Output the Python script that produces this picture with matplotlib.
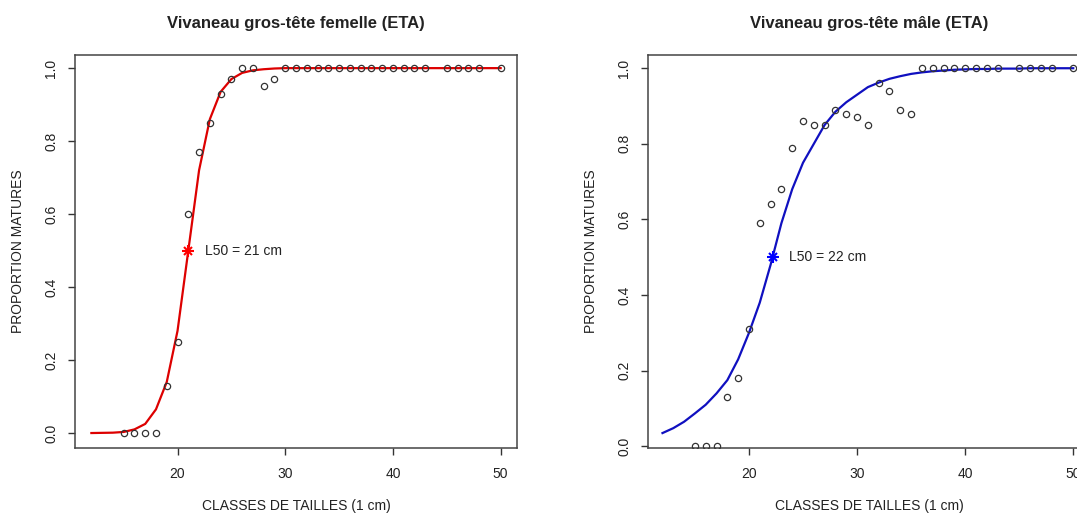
import matplotlib
matplotlib.use("Agg")
import matplotlib.pyplot as plt

plt.rcParams['font.family'] = ['Liberation Sans', 'DejaVu Sans']

# observed proportions (femelle)
f_taille = [15, 16, 17, 18, 19, 20, 21, 22, 23, 24, 25, 26, 27, 28, 29, 30, 31, 32, 33, 34,
            35, 36, 37, 38, 39, 40, 41, 42, 43, 45, 46, 47, 48, 50]
f_prop = [0, 0, 0, 0, 0.13, 0.25, 0.60, 0.77, 0.85, 0.93, 0.97, 1.0, 1.0, 0.95, 0.97, 1.0, 1.0, 1.0, 1.0, 1.0,
          1.0, 1.0, 1.0, 1.0, 1.0, 1.0, 1.0, 1.0, 1.0, 1.0, 1.0, 1.0, 1.0, 1.0]

# observed proportions (male)
m_taille = [15, 16, 17, 18, 19, 20, 21, 22, 23, 24, 25, 26, 27, 28, 29, 30, 31, 32, 33, 34,
            35, 36, 37, 38, 39, 40, 41, 42, 43, 45, 46, 47, 48, 50]
m_prop = [0, 0, 0, 0.13, 0.18, 0.31, 0.59, 0.64, 0.68, 0.79, 0.86, 0.85, 0.85, 0.89, 0.88, 0.87, 0.85, 0.96, 0.94, 0.89,
          0.88, 1.0, 1.0, 1.0, 1.0, 1.0, 1.0, 1.0, 1.0, 1.0, 1.0, 1.0, 1.0, 1.0]

# fitted curves, read at each cm
courbe_x = list(range(12, 51))
f_courbe = [0.0, 0.0005, 0.001, 0.003, 0.01, 0.025, 0.065, 0.14, 0.28, 0.50, 0.72, 0.86, 0.935, 0.97, 0.987,
            0.994, 0.997, 0.999] + [1.0] * 21
m_courbe = [0.035, 0.048, 0.065, 0.087, 0.11, 0.14, 0.175, 0.23, 0.30, 0.38, 0.48, 0.59, 0.68, 0.75, 0.80,
            0.85, 0.885, 0.91, 0.93, 0.95, 0.962, 0.972, 0.979, 0.985, 0.989, 0.992, 0.994, 0.996, 0.997,
            0.998, 0.998, 0.999, 0.999, 0.999, 1.0, 1.0, 1.0, 1.0, 1.0]

f_l50 = 21.0
m_l50 = 22.2

fig = plt.figure(figsize=(10.77, 5.13), dpi=100)
W, H = 1077, 513

def panel(left_px, xlim, ylim, x, y, cx, cy, l50, lab, col, star_col, titre):
    ax = fig.add_axes([left_px / W, 1 - 448 / H, 442 / W, 393 / H])
    ax.plot(cx, cy, color=col, lw=1.6, zorder=2)
    ax.plot(x, y, 'o', mfc='none', mec='#333333', mew=0.9, ms=4.5, zorder=3)
    # R pch=8 style star
    ax.plot([l50], [0.5], marker='+', color=star_col, ms=8, mew=1.5, zorder=4)
    ax.plot([l50], [0.5], marker='x', color=star_col, ms=6, mew=1.5, zorder=4)
    ax.annotate(lab, (l50, 0.5), xytext=(12, 0), textcoords='offset points',
                va='center', ha='left', fontsize=10, color='#222222')
    ax.set_xlim(*xlim)
    ax.set_ylim(*ylim)
    ax.set_xticks([20, 30, 40, 50])
    ax.set_yticks([0.0, 0.2, 0.4, 0.6, 0.8, 1.0])
    ax.set_yticklabels(['0.0', '0.2', '0.4', '0.6', '0.8', '1.0'], rotation=90, va='center')
    ax.tick_params(direction='out', length=5, width=1, colors='#333333', labelsize=10,
                   labelcolor='#222222')
    ax.tick_params(axis='y', pad=7)
    ax.tick_params(axis='x', pad=9)
    for s in ax.spines.values():
        s.set_color('#444444')
        s.set_linewidth(1.1)
    ax.set_xlabel('CLASSES DE TAILLES (1 cm)', fontsize=10, color='#222222')
    ax.set_ylabel('PROPORTION MATURES', fontsize=10, color='#222222')
    ax.xaxis.set_label_coords(0.5, -0.13)
    ax.yaxis.set_label_coords(-0.113, 0.5)
    ax.text(0.5, 1.081, titre, transform=ax.transAxes, ha='center', va='center',
            fontsize=12, fontweight='bold', color='#222222')
    return ax

panel(75, (10.48, 51.52), (-0.041, 1.036), f_taille, f_prop, courbe_x, f_courbe, f_l50,
      'L50 = 21 cm', '#dd0000', '#ff0000', 'Vivaneau gros-tête femelle (ETA)')
panel(648, (10.66, 51.55), (-0.0045, 1.035), m_taille, m_prop, courbe_x, m_courbe, m_l50,
      'L50 = 22 cm', '#1010c0', '#0000ff', 'Vivaneau gros-tête mâle (ETA)')

fig.savefig('out.png', dpi=100)
